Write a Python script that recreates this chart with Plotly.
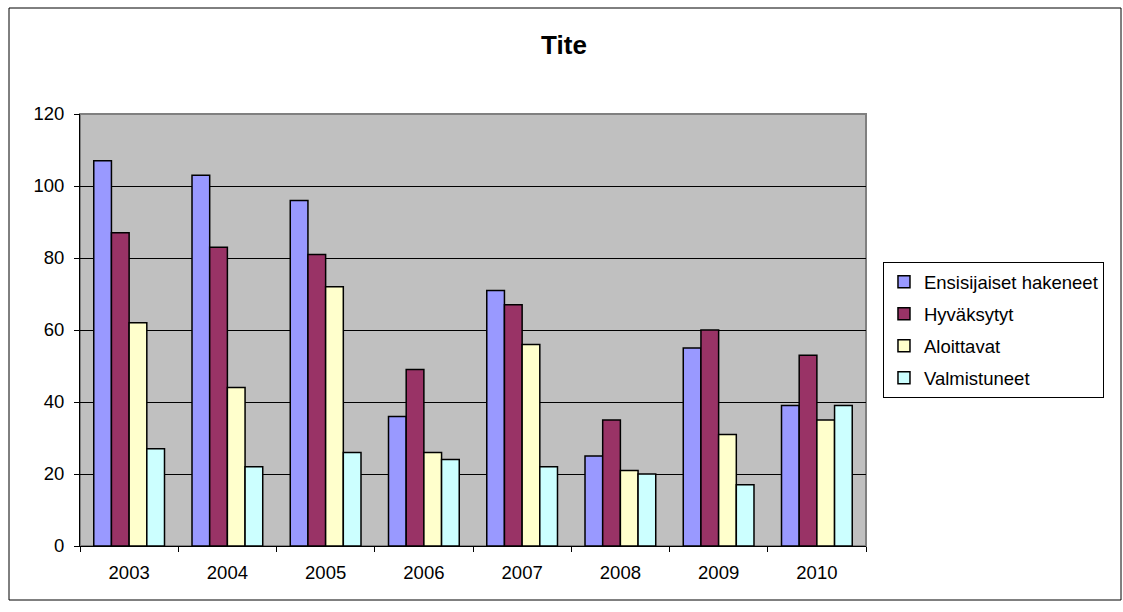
import plotly.graph_objects as go

years = ["2003", "2004", "2005", "2006", "2007", "2008", "2009", "2010"]
ensisijaiset = [107, 103, 96, 36, 71, 25, 55, 39]
hyvaksytyt = [87, 83, 81, 49, 67, 35, 60, 53]
aloittavat = [62, 44, 72, 26, 56, 21, 31, 35]
valmistuneet = [27, 22, 26, 24, 22, 20, 17, 39]

series = [
    ("Ensisijaiset hakeneet", ensisijaiset, "#9999FF"),
    ("Hyväksytyt", hyvaksytyt, "#993366"),
    ("Aloittavat", aloittavat, "#FFFFCC"),
    ("Valmistuneet", valmistuneet, "#CCFFFF"),
]

fig = go.Figure()
for i, (name, vals, col) in enumerate(series):
    fig.add_trace(go.Bar(
        x=years, y=vals, name=name, legendgroup=f"g{i}",
        marker=dict(color=col, line=dict(color="black", width=1.5)),
    ))

font = "Liberation Sans, Arial, sans-serif"
fig.update_layout(
    width=1123, height=612,
    margin=dict(l=80, r=257, t=114, b=66),
    paper_bgcolor="white", plot_bgcolor="#C0C0C0",
    barmode="group", bargap=0.28, bargroupgap=0,
    font=dict(family=font, size=18, color="black"),
    title=dict(text="<b>Tite</b>", x=564 / 1123, xref="container", xanchor="center",
               y=1 - 45 / 612, yref="container", yanchor="middle",
               font=dict(family=font, size=26, color="black")),
    showlegend=True,
    legend=dict(x=1.0216, xanchor="left", y=0.657, yanchor="top",
                bordercolor="black", borderwidth=1, bgcolor="white",
                font=dict(family=font, size=18.5, color="black"),
                traceorder="grouped", tracegroupgap=5),
    xaxis=dict(type="category", showgrid=False, showline=True, linecolor="black",
               linewidth=1, ticks="outside", tickson="boundaries", ticklen=5,
               tickcolor="black", tickfont=dict(size=18.5), ticklabelstandoff=10),
    yaxis=dict(range=[0, 120], dtick=20, showgrid=True, gridcolor="black",
               gridwidth=1, showline=True, linecolor="black", linewidth=1,
               ticks="outside", ticklen=5, tickcolor="black",
               tickfont=dict(size=18.5), zeroline=False, ticklabelstandoff=6),
    shapes=[
        dict(type="rect", xref="paper", yref="paper", x0=0, x1=1, y0=0, y1=1,
             line=dict(color="#808080", width=2), layer="below"),
        dict(type="rect", xref="paper", yref="paper",
             x0=(9 - 80) / 786, x1=(1121 - 80) / 786,
             y0=-(600 - 546) / 432, y1=(546 - 8) / 432,
             line=dict(color="black", width=1)),
    ],
)

fig.write_html("out.html")
